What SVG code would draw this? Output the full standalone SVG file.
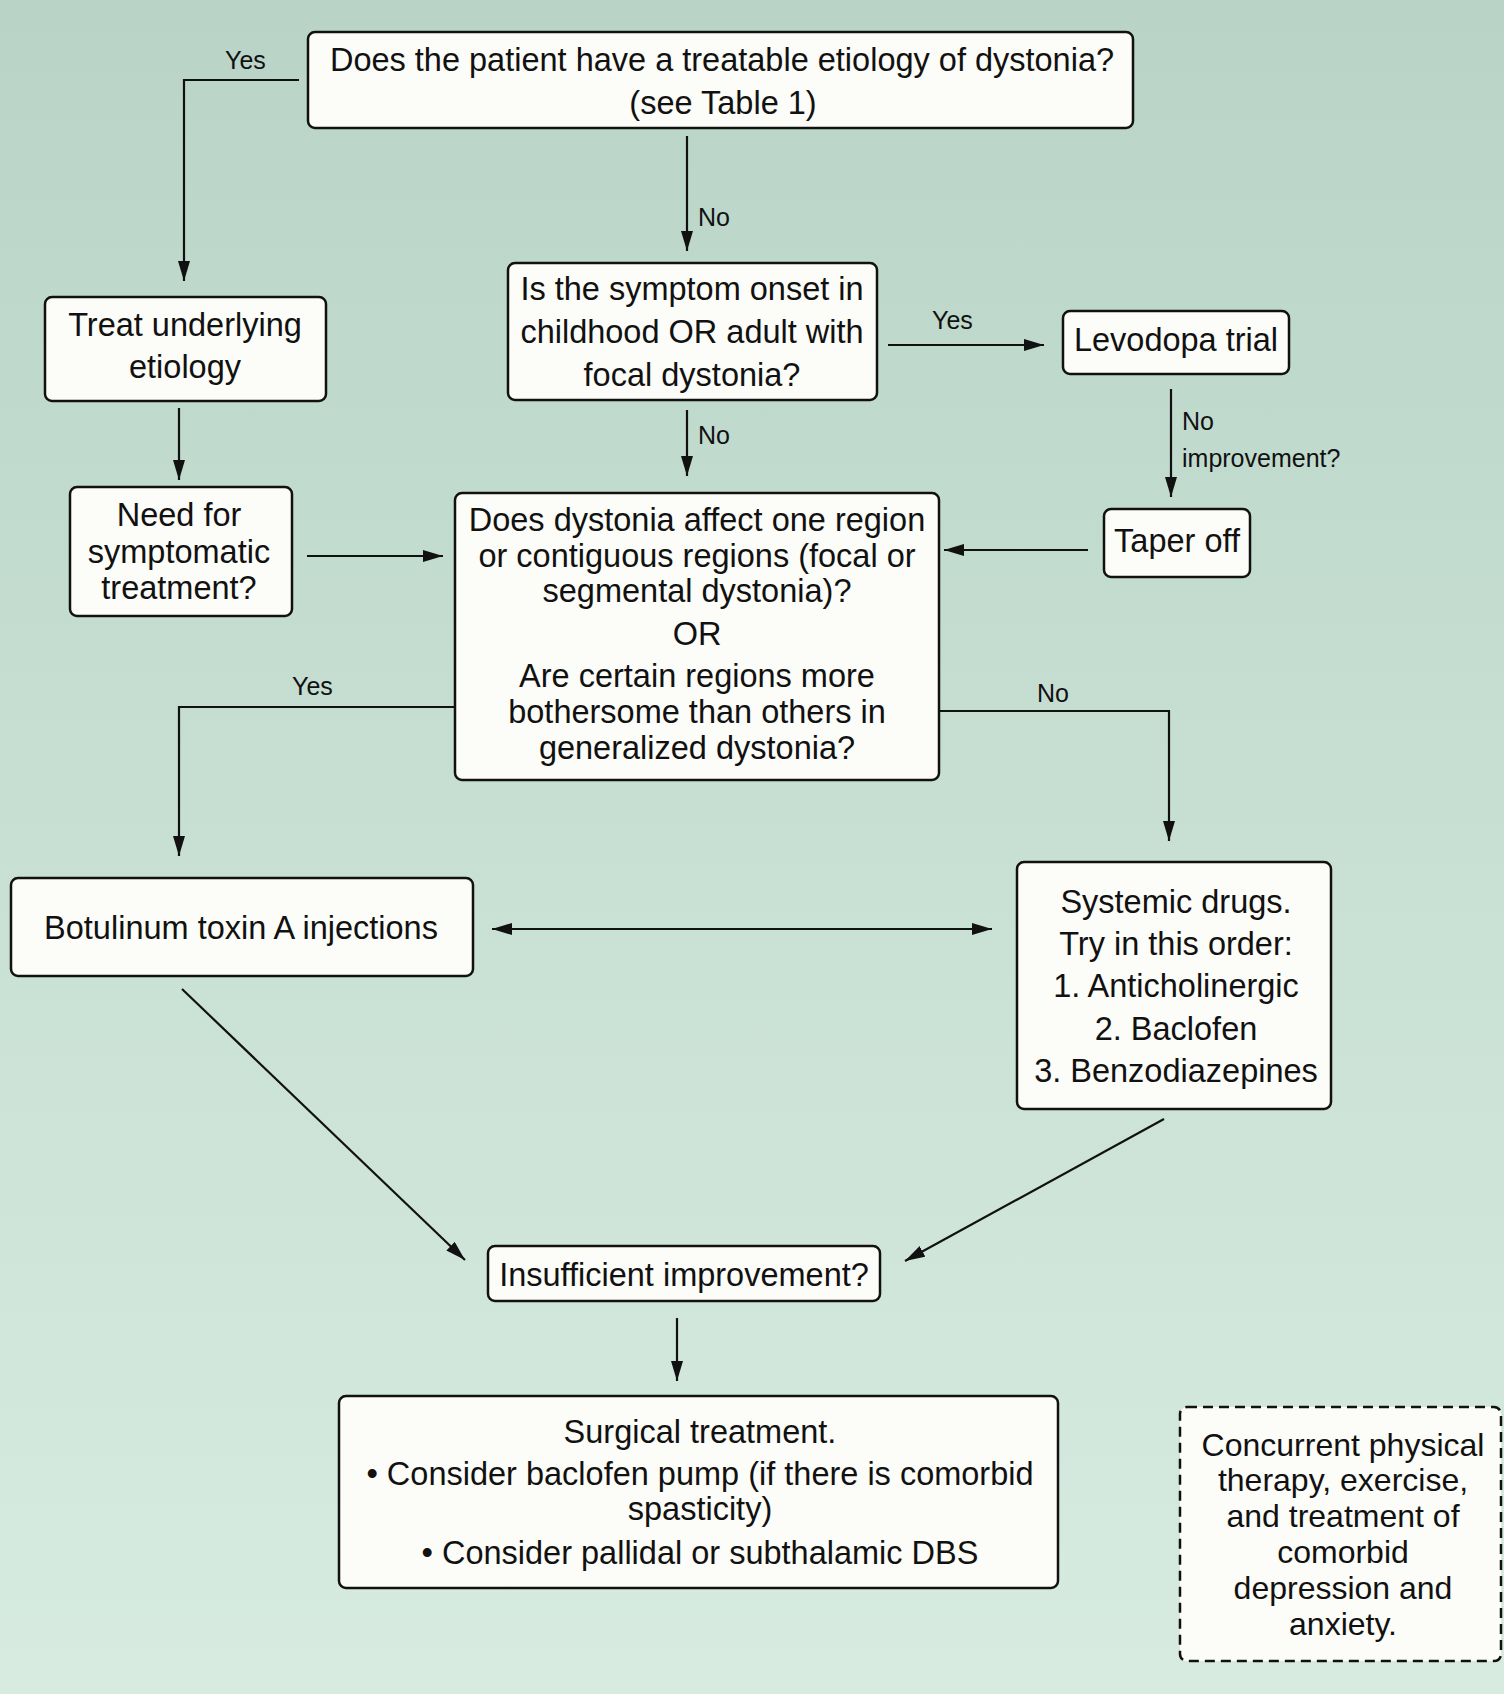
<svg xmlns="http://www.w3.org/2000/svg" width="1504" height="1694" viewBox="0 0 1504 1694">
<defs>
<linearGradient id="bg" x1="0" y1="0" x2="0" y2="1">
<stop offset="0" stop-color="#b9d4c7"/>
<stop offset="1" stop-color="#d7ebe1"/>
</linearGradient>
<marker id="ah" viewBox="0 0 20 12" refX="20" refY="6" markerWidth="20" markerHeight="12" markerUnits="userSpaceOnUse" orient="auto-start-reverse">
<path d="M0,0 L20,6 L0,12 z" fill="#111"/>
</marker>
<style>
.box{fill:#fcfcf8;stroke:#111;stroke-width:2.5}
.dash{fill:#fcfcf8;stroke:#111;stroke-width:2.5;stroke-dasharray:10 6}
.t{font-family:"Liberation Sans",Arial,sans-serif;font-size:32.5px;fill:#111;text-anchor:middle}
.c{font-family:"Liberation Sans",Arial,sans-serif;font-size:32px;fill:#111;text-anchor:middle}
.lbl{font-family:"Liberation Sans",Arial,sans-serif;font-size:25px;fill:#111}
.con{fill:none;stroke:#111;stroke-width:2.2;marker-end:url(#ah)}
</style>
</defs>
<rect x="0" y="0" width="1504" height="1694" fill="url(#bg)"/>

<g id="connectors">
<path class="con" d="M299,80 H184 V281"/>
<path class="con" d="M687,136 V251"/>
<path class="con" d="M179,408 V480"/>
<path class="con" d="M307,556 H443"/>
<path class="con" d="M687,410 V476"/>
<path class="con" d="M888,345 H1044"/>
<path class="con" d="M1171,389 V497"/>
<path class="con" d="M1088,550 H944"/>
<path class="con" d="M455,707 H179 V856"/>
<path class="con" d="M939,711 H1169 V841"/>
<path class="con" d="M492,929 H992" marker-start="url(#ah)"/>
<path class="con" d="M182,989 L465,1260"/>
<path class="con" d="M1164,1119 L905,1261"/>
<path class="con" d="M677,1318 V1381"/>
<text class="lbl" x="225" y="69">Yes</text>
<text class="lbl" x="698" y="226">No</text>
<text class="lbl" x="698" y="444">No</text>
<text class="lbl" x="932" y="329">Yes</text>
<text class="lbl" x="1182" y="430">No</text>
<text class="lbl" x="1182" y="467">improvement?</text>
<text class="lbl" x="292" y="695">Yes</text>
<text class="lbl" x="1037" y="702">No</text>
</g>

<g id="n-treatable">
<rect class="box" x="308" y="32" width="825" height="96" rx="7"/>
<text class="t" x="722" y="71">Does the patient have a treatable etiology of dystonia?</text>
<text class="t" x="723" y="114">(see Table 1)</text>
</g>

<g id="n-treat-underlying">
<rect class="box" x="45" y="297" width="281" height="104" rx="7"/>
<text class="t" x="185" y="336">Treat underlying</text>
<text class="t" x="185" y="378">etiology</text>
</g>

<g id="n-need">
<rect class="box" x="70" y="487" width="222" height="129" rx="7"/>
<text class="t" x="179" y="526">Need for</text>
<text class="t" x="179" y="563">symptomatic</text>
<text class="t" x="179" y="599">treatment?</text>
</g>

<g id="n-onset">
<rect class="box" x="508" y="263" width="369" height="137" rx="7"/>
<text class="t" x="692" y="300">Is the symptom onset in</text>
<text class="t" x="692" y="343">childhood OR adult with</text>
<text class="t" x="692" y="386">focal dystonia?</text>
</g>

<g id="n-levodopa">
<rect class="box" x="1063" y="311" width="226" height="63" rx="7"/>
<text class="t" x="1176" y="351">Levodopa trial</text>
</g>

<g id="n-taper">
<rect class="box" x="1104" y="509" width="146" height="68" rx="7"/>
<text class="t" x="1177" y="552">Taper off</text>
</g>

<g id="n-regions">
<rect class="box" x="455" y="493" width="484" height="287" rx="7"/>
<text class="t" x="697" y="531">Does dystonia affect one region</text>
<text class="t" x="697" y="567">or contiguous regions (focal or</text>
<text class="t" x="697" y="602">segmental dystonia)?</text>
<text class="t" x="697" y="645">OR</text>
<text class="t" x="697" y="687">Are certain regions more</text>
<text class="t" x="697" y="723">bothersome than others in</text>
<text class="t" x="697" y="759">generalized dystonia?</text>
</g>

<g id="n-botulinum">
<rect class="box" x="11" y="878" width="462" height="98" rx="7"/>
<text class="t" x="241" y="939">Botulinum toxin A injections</text>
</g>

<g id="n-systemic">
<rect class="box" x="1017" y="862" width="314" height="247" rx="7"/>
<text class="t" x="1176" y="913">Systemic drugs.</text>
<text class="t" x="1176" y="955">Try in this order:</text>
<text class="t" x="1176" y="997">1. Anticholinergic</text>
<text class="t" x="1176" y="1040">2. Baclofen</text>
<text class="t" x="1176" y="1082">3. Benzodiazepines</text>
</g>

<g id="n-insufficient">
<rect class="box" x="488" y="1246" width="392" height="55" rx="7"/>
<text class="t" x="684" y="1286">Insufficient improvement?</text>
</g>

<g id="n-surgical">
<rect class="box" x="339" y="1396" width="719" height="192" rx="7"/>
<text class="t" x="700" y="1443">Surgical treatment.</text>
<text class="t" x="700" y="1485">• Consider baclofen pump (if there is comorbid</text>
<text class="t" x="700" y="1520">spasticity)</text>
<text class="t" x="700" y="1564">• Consider pallidal or subthalamic DBS</text>
</g>

<g id="n-concurrent">
<rect class="dash" x="1180" y="1407" width="321" height="254" rx="7"/>
<text class="c" x="1343" y="1456">Concurrent physical</text>
<text class="c" x="1343" y="1491">therapy, exercise,</text>
<text class="c" x="1343" y="1527">and treatment of</text>
<text class="c" x="1343" y="1563">comorbid</text>
<text class="c" x="1343" y="1599">depression and</text>
<text class="c" x="1343" y="1635">anxiety.</text>
</g>
</svg>
